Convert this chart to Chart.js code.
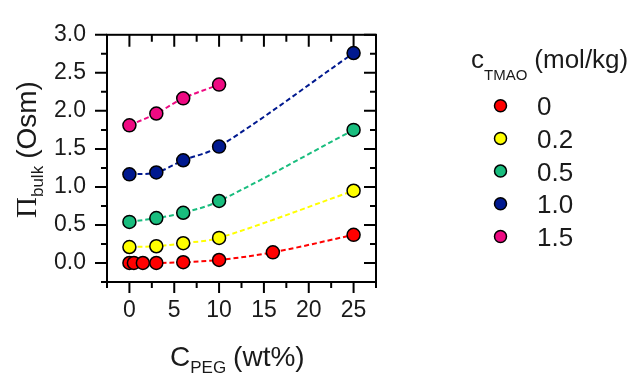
<!DOCTYPE html>
<html lang="en">
  <head>
    <meta charset="UTF-8" />
    <title>Osmotic pressure vs PEG</title>
    <script src="https://cdn.jsdelivr.net/npm/chart.js"></script>
    <style>
      * {
        margin: 0;
        padding: 0;
        box-sizing: border-box;
      }
      body {
        background: #ffffff;
        font-family: "Liberation Sans", Arial, sans-serif;
      }
      .chart-box {
        width: 634px;
        height: 381px;
      }
    </style>
  </head>
  <body>
    <div class="chart-box">
      <canvas id="osmChart" width="634" height="381"></canvas>
    </div>

    <script>
      // data
      var seriesLabels = ["0", "0.2", "0.5", "1.0", "1.5"];
      var seriesColors = ["#ff0000", "#ffff00", "#19bd7e", "#00198f", "#ee0a82"];

      var xRed = [0, 0.5, 1.5, 3, 6, 10, 16, 25];
      var yRed = [0, 0, 0, 0, 0.01, 0.04, 0.14, 0.37];
      var xCommon = [0, 3, 6, 10, 25];
      var yYellow = [0.21, 0.22, 0.26, 0.33, 0.95];
      var yGreen = [0.54, 0.59, 0.66, 0.815, 1.75];
      var yBlue = [1.165, 1.19, 1.35, 1.53, 2.76];
      var xPink = [0, 3, 6, 10];
      var yPink = [1.81, 1.965, 2.165, 2.345];

      var xMajorTicks = [0, 5, 10, 15, 20, 25];
      var xMinorTicks = [-2.5, 2.5, 7.5, 12.5, 17.5, 22.5, 27.5];
      var yMajorTicks = [0, 0.5, 1.0, 1.5, 2.0, 2.5, 3.0];
      var yMinorTicks = [-0.25, 0.25, 0.75, 1.25, 1.75, 2.25, 2.75];

      function toPoints(xs, ys) {
        return xs.map(function (x, i) {
          return { x: x, y: ys[i] };
        });
      }

      var seriesData = [
        toPoints(xRed, yRed),
        toPoints(xCommon, yYellow),
        toPoints(xCommon, yGreen),
        toPoints(xCommon, yBlue),
        toPoints(xPink, yPink),
      ];

      var datasets = seriesData.map(function (pts, i) {
        return {
          label: seriesLabels[i],
          data: pts,
          showLine: true,
          tension: 0.35,
          borderColor: seriesColors[i],
          borderWidth: 2,
          borderDash: [5, 3],
          pointRadius: 6.5,
          pointBorderWidth: 1.5,
          pointBorderColor: "#000000",
          pointBackgroundColor: seriesColors[i],
          clip: false,
        };
      });

      // frame, in/out tick marks, axis titles with subscripts, legend
      var decorPlugin = {
        id: "decor",
        afterDraw: function (chart) {
          var ctx = chart.ctx;
          var a = chart.chartArea;
          var xs = chart.scales.x;
          var ys = chart.scales.y;
          ctx.save();
          ctx.strokeStyle = "#000";
          ctx.lineWidth = 2;
          ctx.strokeRect(a.left, a.top, a.right - a.left, a.bottom - a.top);

          ctx.lineWidth = 2;
          ctx.beginPath();
          xMajorTicks.forEach(function (v) {
            var p = xs.getPixelForValue(v);
            ctx.moveTo(p, a.bottom); ctx.lineTo(p, a.bottom + 11);
            ctx.moveTo(p, a.top); ctx.lineTo(p, a.top + 12);
          });
          xMinorTicks.forEach(function (v) {
            var p = xs.getPixelForValue(v);
            ctx.moveTo(p, a.bottom); ctx.lineTo(p, a.bottom + 6);
            ctx.moveTo(p, a.top); ctx.lineTo(p, a.top + 7);
          });
          yMajorTicks.forEach(function (v) {
            var p = ys.getPixelForValue(v);
            ctx.moveTo(a.left, p); ctx.lineTo(a.left - 12, p);
            ctx.moveTo(a.right, p); ctx.lineTo(a.right - 12, p);
          });
          yMinorTicks.forEach(function (v) {
            var p = ys.getPixelForValue(v);
            ctx.moveTo(a.left, p); ctx.lineTo(a.left - 6, p);
            ctx.moveTo(a.right, p); ctx.lineTo(a.right - 6, p);
          });
          ctx.stroke();

          ctx.fillStyle = "#1a1a1a";
          ctx.textBaseline = "alphabetic";
          ctx.textAlign = "left";

          // x title: C_PEG (wt%)
          var tx = 170;
          var ty = 366;
          ctx.font = "28px 'Liberation Sans'";
          ctx.fillText("C", tx, ty);
          tx += ctx.measureText("C").width;
          ctx.font = "17px 'Liberation Sans'";
          ctx.fillText("PEG", tx, ty + 7);
          tx += ctx.measureText("PEG").width + 7;
          ctx.font = "28px 'Liberation Sans'";
          ctx.fillText("(wt%)", tx, ty);

          // y title: Π_bulk (Osm), rotated
          ctx.save();
          ctx.translate(36, 218);
          ctx.rotate(-Math.PI / 2);
          ctx.font = "29px 'Liberation Serif'";
          ctx.fillText("\u03A0", 0, 0);
          var rx = ctx.measureText("\u03A0").width;
          ctx.font = "17px 'Liberation Sans'";
          ctx.fillText("bulk", rx, 7);
          rx += ctx.measureText("bulk").width + 7;
          ctx.font = "28px 'Liberation Sans'";
          ctx.fillText("(Osm)", rx, 0);
          ctx.restore();

          // legend
          var lx = 471;
          ctx.font = "26px 'Liberation Sans'";
          ctx.fillText("c", lx, 68);
          lx += ctx.measureText("c").width;
          ctx.font = "15px 'Liberation Sans'";
          ctx.fillText("TMAO", lx, 80);
          lx += ctx.measureText("TMAO").width + 7;
          ctx.font = "26px 'Liberation Sans'";
          ctx.fillText("(mol/kg)", lx, 68);

          chart.data.datasets.forEach(function (ds, i) {
            var my = 105.7 + i * 32.7;
            ctx.beginPath();
            ctx.arc(500.5, my, 6, 0, Math.PI * 2);
            ctx.fillStyle = ds.pointBackgroundColor;
            ctx.fill();
            ctx.lineWidth = 1.5;
            ctx.strokeStyle = "#000";
            ctx.stroke();
            ctx.fillStyle = "#1a1a1a";
            ctx.font = "26px 'Liberation Sans'";
            ctx.fillText(ds.label, 537, my + 9.5);
          });
          ctx.restore();
        },
      };

      new Chart(document.getElementById("osmChart").getContext("2d"), {
        type: "scatter",
        data: { datasets: datasets },
        options: {
          responsive: false,
          animation: false,
          layout: { padding: { left: 0, top: 13, right: 258, bottom: 0 } },
          plugins: {
            legend: { display: false },
            tooltip: { enabled: false },
          },
          scales: {
            x: {
              type: "linear",
              min: -2.5,
              max: 27.5,
              grid: { display: false, drawTicks: false },
              border: { display: false },
              afterBuildTicks: function (scale) {
                scale.ticks = xMajorTicks.map(function (v) {
                  return { value: v };
                });
              },
              afterFit: function (scale) {
                scale.height = 99;
              },
              ticks: {
                padding: 15,
                color: "#1a1a1a",
                font: { family: "'Liberation Sans'", size: 23 },
                callback: function (v) {
                  return String(v);
                },
              },
            },
            y: {
              type: "linear",
              min: -0.25,
              max: 3.0,
              grid: { display: false, drawTicks: false },
              border: { display: false },
              afterBuildTicks: function (scale) {
                scale.ticks = yMajorTicks.map(function (v) {
                  return { value: v };
                });
              },
              afterFit: function (scale) {
                scale.width = 107;
              },
              ticks: {
                padding: 21,
                color: "#1a1a1a",
                font: { family: "'Liberation Sans'", size: 23 },
                callback: function (v) {
                  return Number(v).toFixed(1);
                },
              },
            },
          },
        },
        plugins: [decorPlugin],
      });
    </script>
  </body>
</html>
